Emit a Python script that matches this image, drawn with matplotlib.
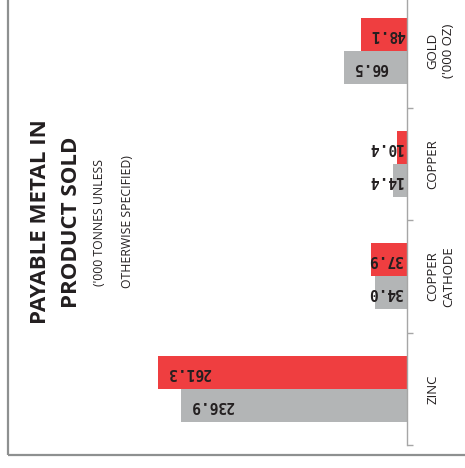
import matplotlib
matplotlib.use("Agg")
import matplotlib.pyplot as plt
import numpy as np
from matplotlib.patches import Rectangle

# data (bottom to top as drawn)
categories = ["ZINC", "COPPER\nCATHODE", "COPPER", "GOLD\n('000 OZ)"]
prior_year = [236.9, 34.0, 14.4, 66.5]      # grey bars
current_year = [261.3, 37.9, 10.4, 48.1]    # red bars

RED = "#EF3E40"
GREY = "#B3B5B6"
AXIS_GREY = "#A6A6A6"
TXT = "#231F20"

W, H = 465, 468
fig = plt.figure(figsize=(W / 100, H / 100), dpi=100)
fig.patch.set_facecolor("white")

ax = fig.add_axes([0, 23 / H, 407 / W, 450 / H])
ypos = np.arange(len(categories))
bh = 0.293

ax.barh(ypos - bh / 2, prior_year, height=bh, color=GREY)
ax.barh(ypos + bh / 2, current_year, height=bh, color=RED)

ax.set_xlim(407 / 0.953, 0)
ax.set_ylim(-0.5, len(categories) - 0.5)

for side in ["top", "left", "bottom"]:
    ax.spines[side].set_visible(False)
ax.spines["right"].set_color(AXIS_GREY)
ax.spines["right"].set_linewidth(1.0)
ax.set_xticks([])

ax.yaxis.tick_right()
ax.set_yticks(np.arange(-0.5, len(categories), 1.0))
ax.set_yticklabels([])
ax.tick_params(axis="y", which="major", length=4, color=AXIS_GREY, width=1.0)
ax.set_yticks(ypos, minor=True)
ax.set_yticklabels(categories, minor=True, rotation=90, fontsize=9.5,
                   fontfamily="Open Sans", color=TXT)
ax.tick_params(axis="y", which="minor", length=0, pad=14)
for lab in ax.get_yticklabels(minor=True):
    lab.set_multialignment("center")
    lab.set_verticalalignment("center")
    lab.set_linespacing(1.3)

# value labels (upside-down)
def put_labels(values, offsets):
    for v, y in zip(values, offsets):
        if v > 45:
            ax.annotate(f"{v:.1f}", xy=(v, y), xytext=(9, 0), textcoords="offset pixels",
                        ha="left", va="center", rotation=180, fontsize=10.5,
                        fontfamily="DejaVu Sans Mono", fontweight="bold", color=TXT)
        else:
            ax.annotate(f"{v:.1f}", xy=(0, y), xytext=(-4, 0), textcoords="offset pixels",
                        ha="right", va="center", rotation=180, fontsize=10.5,
                        fontfamily="DejaVu Sans Mono", fontweight="bold", color=TXT)

put_labels(prior_year, ypos - bh / 2)
put_labels(current_year, ypos + bh / 2)

# title block
ty = 1 - 222 / H
fig.text(40 / W, ty, "PAYABLE METAL IN", rotation=90, ha="center", va="center",
         fontsize=16, fontweight="bold", fontfamily="Open Sans", color=TXT)
fig.text(71.5 / W, ty, "PRODUCT SOLD", rotation=90, ha="center", va="center",
         fontsize=16, fontweight="bold", fontfamily="Open Sans", color=TXT)
fig.text(99.5 / W, ty, "('000 TONNES UNLESS", rotation=90, ha="center", va="center",
         fontsize=8.8, fontfamily="Open Sans", color=TXT)
fig.text(127 / W, ty, "OTHERWISE SPECIFIED)", rotation=90, ha="center", va="center",
         fontsize=8.8, fontfamily="Open Sans", color=TXT)

# outer frame (only left and bottom edges fall inside the image)
frame = Rectangle((7.5 / W, (H - 455) / H), 1.2, 1.2, transform=fig.transFigure,
                  fill=False, edgecolor="#8E9090", linewidth=1.6, clip_on=False)
fig.add_artist(frame)

fig.savefig("out.png", dpi=100)
